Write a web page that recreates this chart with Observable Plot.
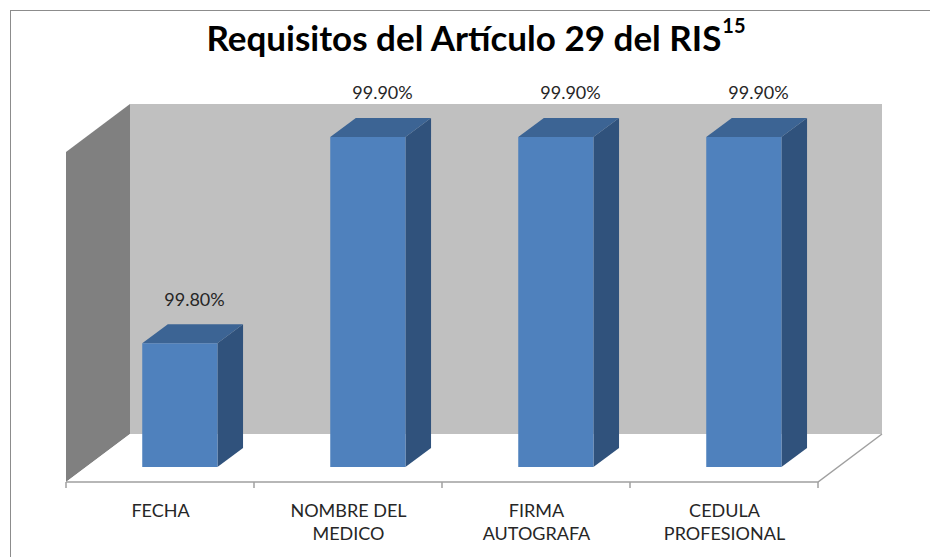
<!DOCTYPE html>
<html><head><meta charset="utf-8">
<script src="https://cdn.jsdelivr.net/npm/d3@7"></script>
<script src="https://cdn.jsdelivr.net/npm/@observablehq/plot@0.6"></script>
<style>
html,body{margin:0;padding:0;background:#fff;overflow:hidden}
#wrap{position:relative;width:930px;height:557px;overflow:hidden;font-family:Lato,sans-serif}
#frame{position:absolute;left:10px;top:10px;width:1000px;height:700px;border:1px solid #8c8c8c;box-sizing:border-box}
#chart{position:absolute;left:0;top:0}
#title{position:absolute;left:0;width:952px;top:17px;text-align:center;font-weight:bold;font-size:35px;line-height:40px;color:#000;white-space:nowrap}
#title sup{font-size:20px;position:relative;top:-2px;vertical-align:top;line-height:20px;margin-left:1px}
</style></head><body>
<div id="wrap"><div id="frame"></div><div id="chart"></div><div id="title">Requisitos del Artículo 29 del RIS<sup>15</sup></div></div>
<script>
const categories = ["FECHA", "NOMBRE DEL\nMEDICO", "FIRMA\nAUTOGRAFA", "CEDULA\nPROFESIONAL"];
const values = [99.80, 99.90, 99.90, 99.90];
const valueLabels = ["99.80%", "99.90%", "99.90%", "99.90%"];
const yDomain = [99.74, 99.90];

const data = categories.map((c, i) => ({category: c, value: values[i], label: valueLabels[i]}));

// 3D projection settings (style)
const D = {dx: 64, dy: -48};
const barDepth = [0.31, 0.71];
const barFrac = 0.4;
const colors = {back: "#c0c0c0", side: "#808080", floorStroke: "#a0a0a0",
  front: "#4f81bd", top: "#3c6494", right: "#30527c"};

const NS = "http://www.w3.org/2000/svg";
function el(tag, attrs) {
  const e = document.createElementNS(NS, tag);
  for (const k in attrs) e.setAttribute(k, attrs[k]);
  return e;
}
const pts = a => a.map(p => p.join(",")).join(" ");

function walls(index, scales, vals, dims) {
  const g = el("g", {});
  const x0 = dims.marginLeft, x1 = dims.width - dims.marginRight;
  const yT = scales.y(yDomain[1]), yB = scales.y(yDomain[0]);
  g.appendChild(el("polygon", {points: pts([[x0 + D.dx, yT + D.dy], [x1 + D.dx, yT + D.dy], [x1 + D.dx, yB + D.dy], [x0 + D.dx, yB + D.dy]]), fill: colors.back}));
  g.appendChild(el("polygon", {points: pts([[x0, yT], [x0 + D.dx, yT + D.dy], [x0 + D.dx, yB + D.dy], [x0, yB]]), fill: colors.side}));
  g.appendChild(el("polygon", {points: pts([[x0, yB], [x0 + D.dx, yB + D.dy], [x1 + D.dx, yB + D.dy], [x1, yB]]), fill: "#fff"}));
  g.appendChild(el("polyline", {points: pts([[x0, yB], [x1, yB], [x1 + D.dx, yB + D.dy]]), fill: "none", stroke: colors.floorStroke, "stroke-width": 1.5}));
  const n = categories.length, step = (x1 - x0) / n;
  for (let i = 0; i <= n; i++) {
    const tx = x0 + i * step;
    g.appendChild(el("line", {x1: tx, x2: tx, y1: yB, y2: yB + 6, stroke: colors.floorStroke, "stroke-width": 1.5}));
  }
  return g;
}

function bars3d(index, scales, vals, dims) {
  const g = el("g", {});
  const bw = scales.x.bandwidth ? scales.x.bandwidth() : (dims.width - dims.marginLeft - dims.marginRight) / categories.length;
  const w = bw * barFrac;
  const s0 = [D.dx * barDepth[0], D.dy * barDepth[0]], s1 = [D.dx * barDepth[1], D.dy * barDepth[1]];
  for (const i of index) {
    const bx = vals.x[i] + (bw - w) / 2;
    const yv = vals.y2[i], yb = vals.y1[i];
    const L = bx, R = bx + w;
    g.appendChild(el("polygon", {points: pts([[R + s0[0], yv + s0[1]], [R + s1[0], yv + s1[1]], [R + s1[0], yb + s1[1]], [R + s0[0], yb + s0[1]]]), fill: colors.right}));
    g.appendChild(el("polygon", {points: pts([[L + s0[0], yv + s0[1]], [R + s0[0], yv + s0[1]], [R + s1[0], yv + s1[1]], [L + s1[0], yv + s1[1]]]), fill: colors.top}));
    g.appendChild(el("polygon", {points: pts([[L + s0[0], yv + s0[1]], [R + s0[0], yv + s0[1]], [R + s0[0], yb + s0[1]], [L + s0[0], yb + s0[1]]]), fill: colors.front}));
  }
  return g;
}

const chart = Plot.plot({
  width: 930,
  height: 557,
  marginLeft: 66,
  marginRight: 112,
  marginTop: 152,
  marginBottom: 75,
  style: {fontFamily: "Lato, sans-serif", background: "transparent"},
  x: {domain: categories, padding: 0, label: null},
  y: {domain: yDomain, axis: null},
  marks: [
    walls,
    Plot.barY(data, {x: "category", y1: () => yDomain[0], y2: "value", render: bars3d}),
    Plot.text(data, {x: "category", y: "value", text: "label", dx: 34, dy: -59, fontSize: 18, fill: "#262626"}),
    Plot.axisX({tickSize: 0, tickPadding: 18, fontSize: 18, lineHeight: 1.28, color: "#262626", label: null})
  ]
});
document.getElementById("chart").appendChild(chart);
</script>
</body></html>
